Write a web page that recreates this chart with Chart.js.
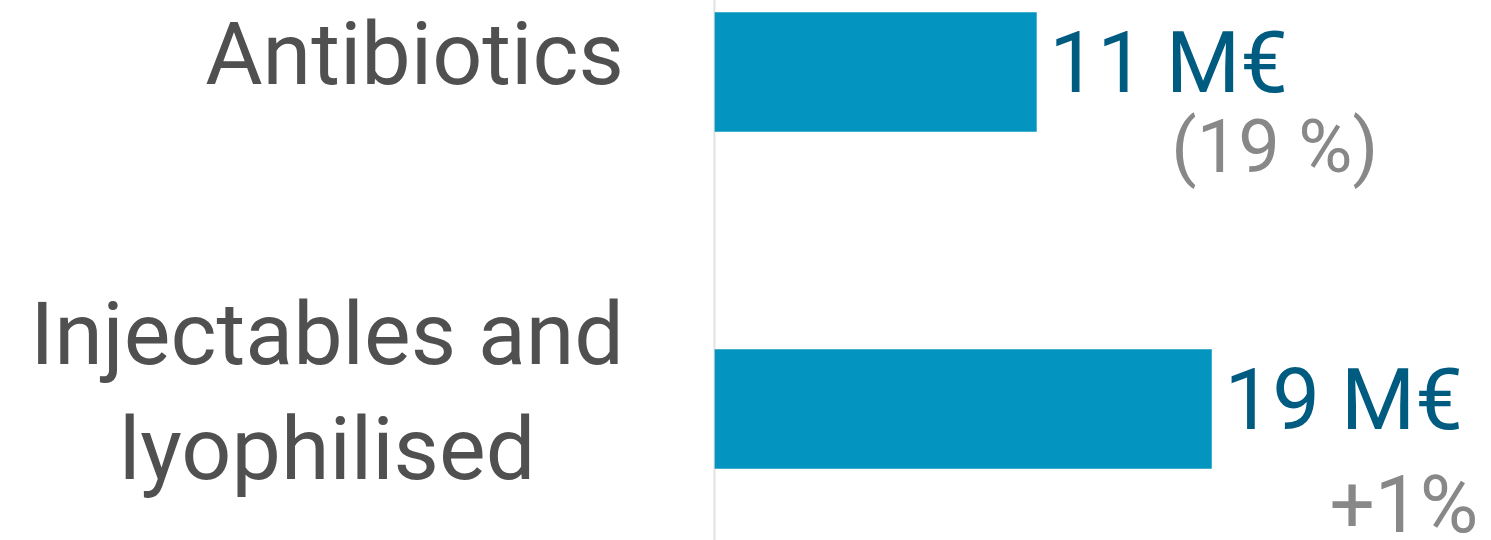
<!DOCTYPE html>
<html>
<head>
<meta charset="utf-8">
<script src="https://cdn.jsdelivr.net/npm/chart.js@4/dist/chart.umd.min.js"></script>
<style>
  html, body { margin: 0; padding: 0; background: #ffffff; }
  #wrap { width: 1491px; height: 540px; position: relative; }
</style>
</head>
<body>
<div id="wrap"><canvas id="c"></canvas></div>
<script>
// ---- data ----
const categories = [['Antibiotics'], ['Injectables and', 'lyophilised']];
const barValues = [12.3, 19.0];
const valueLabels = ['11 M€', '19 M€'];
const changeLabels = ['(19 %)', '+1%'];

const FONT = 'Roboto, "Noto Sans", sans-serif';

const labelPlugin = {
  id: 'labelPlugin',
  beforeDatasetsDraw(chart) {
    const ctx = chart.ctx;
    const xs = chart.scales.x;
    const x0 = Math.round(xs.getPixelForValue(0)) - 0.5;
    ctx.save();
    ctx.strokeStyle = '#e2e2e2';
    ctx.lineWidth = 2;
    ctx.beginPath();
    ctx.moveTo(x0, 0);
    ctx.lineTo(x0, chart.height);
    ctx.stroke();
    ctx.restore();
  },
  afterDatasetsDraw(chart, args, opts) {
    const ctx = chart.ctx;
    const ys = chart.scales.y;
    const left = chart.chartArea.left;
    ctx.save();
    // category labels: right-aligned block, centered lines
    ctx.font = '400 88px ' + FONT;
    ctx.fillStyle = '#505050';
    ctx.textBaseline = 'alphabetic';
    ctx.textAlign = 'center';
    categories.forEach((lines, i) => {
      const cy = ys.getPixelForTick(i);
      const maxW = Math.max(...lines.map(l => ctx.measureText(l).width));
      const right = left - opts.labelGap;
      const cx = right - maxW / 2;
      const lh = opts.lineHeight;
      const first = cy + opts.baseShift - (lines.length - 1) * lh / 2;
      lines.forEach((l, j) => ctx.fillText(l, cx, first + j * lh));
    });
    // value labels
    const meta = chart.getDatasetMeta(0);
    meta.data.forEach((bar, i) => {
      ctx.textAlign = 'left';
      ctx.font = '400 85px ' + FONT;
      ctx.fillStyle = '#005b80';
      ctx.fillText(valueLabels[i], bar.x + opts.valueGap, bar.y + opts.valueShift);
      ctx.font = '400 ' + opts.changeSize[i] + 'px ' + FONT;
      ctx.fillStyle = '#888888';
      ctx.fillText(changeLabels[i], bar.x + opts.changeDx[i], bar.y + opts.changeDy[i]);
    });
    ctx.restore();
  }
};

new Chart(document.getElementById('c'), {
  type: 'bar',
  data: {
    labels: categories,
    datasets: [{
      data: barValues,
      backgroundColor: '#0494c0',
      borderWidth: 0,
      barThickness: 119,
      clip: false
    }]
  },
  options: {
    indexAxis: 'y',
    responsive: true,
    maintainAspectRatio: false,
    animation: false,
    devicePixelRatio: 1,
    layout: { padding: { left: 715, right: 0, top: 72, bottom: 131 } },
    scales: {
      x: { display: false, min: 0, max: 29.7 },
      y: { display: false, offset: false }
    },
    plugins: {
      legend: { display: false },
      tooltip: { enabled: false },
      labelPlugin: {
        labelGap: 91,
        lineHeight: 115,
        baseShift: 12,
        valueGap: 13,
        valueShift: 20,
        changeSize: [74, 80],
        changeDx: [135, 118],
        changeDy: [100, 123]
      }
    }
  },
  plugins: [labelPlugin]
});
</script>
</body>
</html>
